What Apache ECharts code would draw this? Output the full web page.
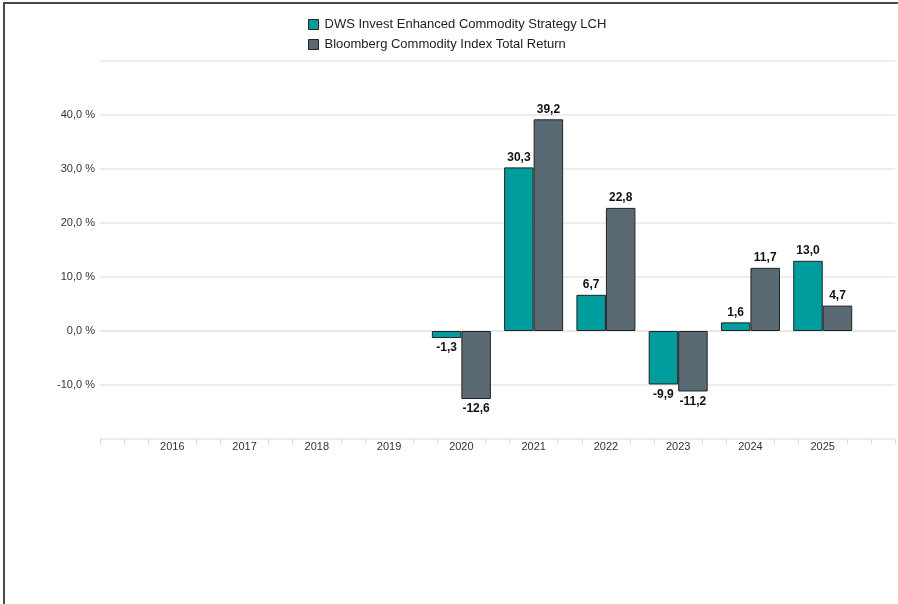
<!DOCTYPE html>
<html>
<head>
<meta charset="utf-8">
<script src="https://cdn.jsdelivr.net/npm/echarts@6/dist/echarts.min.js"></script>
<style>
  html, body { margin: 0; padding: 0; background: #fff; }
  #wrap { position: relative; width: 898px; height: 604px; }
  #chart { position: absolute; left: 0; top: 0; width: 898px; height: 604px; }
  #frame { position: absolute; left: 3px; top: 2px; width: 900px; height: 610px;
           border-left: 2px solid #4a4a4a; border-top: 2px solid #4a4a4a; pointer-events: none; }
</style>
</head>
<body>
<div id="wrap"><div id="chart"></div><div id="frame"></div></div>
<script>
const categories = ['', '2016', '2017', '2018', '2019', '2020', '2021', '2022', '2023', '2024', '2025', ''];
const seriesNames = ['DWS Invest Enhanced Commodity Strategy LCH', 'Bloomberg Commodity Index Total Return'];
const fundValues = [null, null, null, null, null, -1.3, 30.3, 6.7, -9.9, 1.6, 13.0, null];
const indexValues = [null, null, null, null, null, -12.6, 39.2, 22.8, -11.2, 11.7, 4.7, null];
const yTicks = [-10, 0, 10, 20, 30, 40];

const fmt = v => v.toFixed(1).replace('.', ',');
const minorSteps = 3;
const tickCount = (categories.length - 1) * minorSteps;
const tickValues = [];
for (let i = 0; i <= tickCount; i++) {
  if (i % minorSteps === 0 && categories[i / minorSteps] !== '') continue;
  tickValues.push(i);
}

const chart = echarts.init(document.getElementById('chart'), null, { renderer: 'canvas' });
const labelStyle = {
  show: true, position: 'outside', distance: 4,
  color: '#111', fontSize: 12, fontWeight: 'bold', fontFamily: 'Liberation Sans, Arial, sans-serif',
  formatter: p => (p.value == null ? '' : fmt(p.value))
};
chart.setOption({
  animation: false,
  textStyle: { fontFamily: 'Liberation Sans, Arial, sans-serif' },
  color: ['#009c9e', '#5a6a75'],
  legend: {
    orient: 'vertical', left: 303, top: 13, itemWidth: 10, itemHeight: 10, itemGap: 7,
    icon: 'rect',
    textStyle: { fontSize: 13, color: '#222', padding: [0, 0, 0, 1] },
    itemStyle: { borderColor: '#222', borderWidth: 1 },
    data: seriesNames
  },
  grid: { left: 100, right: 3, top: 61, bottom: 165, containLabel: false },
  xAxis: [{
    type: 'category', data: categories, boundaryGap: false,
    axisLine: { show: true, lineStyle: { color: '#e8e8e8', width: 2 } },
    axisTick: { show: false },
    axisLabel: { color: '#333', fontSize: 11, margin: 2, interval: 0 },
    splitLine: { show: false }
  }, {
    type: 'value', min: 0, max: tickCount, interval: 1, position: 'bottom',
    axisLine: { show: false },
    axisTick: { show: true, length: 5, lineStyle: { color: '#d8d8d8', width: 1 }, customValues: tickValues },
    axisLabel: { show: false },
    splitLine: { show: false }
  }],
  yAxis: {
    type: 'value', min: -20, max: 50, interval: 10,
    axisLine: { show: false }, axisTick: { show: false },
    axisLabel: {
      color: '#333', fontSize: 11, margin: 5,
      formatter: v => (yTicks.includes(v) ? fmt(v) + ' %' : '')
    },
    splitLine: { lineStyle: { color: '#e6e6e6', width: 1.5 } }
  },
  series: [{
    name: seriesNames[0], type: 'bar', xAxisIndex: 0, data: fundValues,
    barWidth: 29.5, barGap: '0%',
    itemStyle: { color: '#009c9e', borderColor: '#222', borderWidth: 1 },
    label: labelStyle
  }, {
    name: seriesNames[1], type: 'bar', xAxisIndex: 0, data: indexValues,
    barWidth: 29.5, barGap: '0%',
    itemStyle: { color: '#5a6a75', borderColor: '#222', borderWidth: 1 },
    label: labelStyle
  }]
});
</script>
</body>
</html>
